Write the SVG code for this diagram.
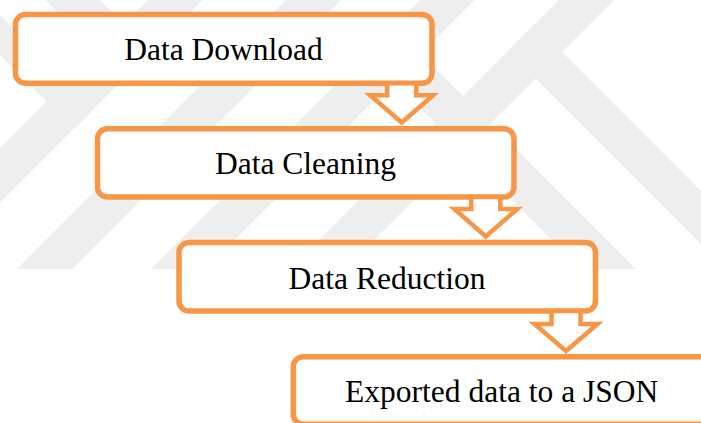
<svg xmlns="http://www.w3.org/2000/svg" width="701" height="423" viewBox="0 0 701 423">
  <style>
    .box { fill: #ffffff; stroke: #F79646; stroke-width: 5.5; }
    .arrow { fill: #ffffff; stroke: #F79646; stroke-width: 4.5; stroke-linejoin: miter; }
    .label { font-family: "Liberation Serif", "Times New Roman", serif; font-size: 31.5px; fill: #000000; text-anchor: middle; }
    .mark { fill: #eeeeee; }
  </style>
  <defs>
    <clipPath id="markClip">
      <rect x="0" y="0" width="701" height="269"/>
    </clipPath>
  </defs>

  <rect x="0" y="0" width="701" height="423" fill="#ffffff"/>

  <!-- faint background emblem: diagonal bands cut flat at the bottom -->
  <g id="background-emblem" clip-path="url(#markClip)">
    <polygon class="mark" points="148,0 203,0 0,203 0,148"/>
    <polygon class="mark" points="286,0 341,0 0,341 0,286"/>
    <polygon class="mark" points="420,0 475,0 0,475 0,420"/>
    <polygon class="mark" points="559,0 614,0 0,614 0,559"/>
    <polygon class="mark" points="366,54 393.5,26.5 767,400 712,400"/>
    <polygon class="mark" points="508,51 534.5,24.5 910,400 857,400"/>
    <polygon class="mark" points="0,15 94,109 74,129 0,55"/>
    <polygon class="mark" points="45,0 100,0 151.5,51.5 124,79"/>
  </g>

  <!-- process steps -->
  <g id="node-download">
    <rect class="box" x="15.5" y="14.5" width="416.5" height="68.8" rx="10" ry="10"/>
    <text class="label" x="223.5" y="60">Data Download</text>
  </g>
  <g id="node-cleaning">
    <rect class="box" x="97.5" y="128.8" width="416.5" height="68.3" rx="10" ry="10"/>
    <text class="label" x="305.5" y="174">Data Cleaning</text>
  </g>
  <g id="node-reduction">
    <rect class="box" x="179" y="242.5" width="416.5" height="68.5" rx="10" ry="10"/>
    <text class="label" x="387" y="289">Data Reduction</text>
  </g>
  <g id="node-export">
    <rect class="box" x="293.3" y="356.7" width="416.5" height="67.5" rx="10" ry="10"/>
    <text class="label" x="501.7" y="401.7">Exported data to a JSON</text>
  </g>

  <!-- hollow block arrows between steps -->
  <g id="connectors">
    <polygon class="arrow" points="387.2,83.3 416.2,83.3 416.2,95.3 433.2,95.3 401.7,122.5 370.2,95.3 387.2,95.3"/>
    <polygon class="arrow" points="471.3,197.1 500.3,197.1 500.3,209 517.3,209 485.8,236.5 454.3,209 471.3,209"/>
    <polygon class="arrow" points="551.5,311 580.5,311 580.5,324 597.5,324 566,351 534.5,324 551.5,324"/>
  </g>
</svg>
